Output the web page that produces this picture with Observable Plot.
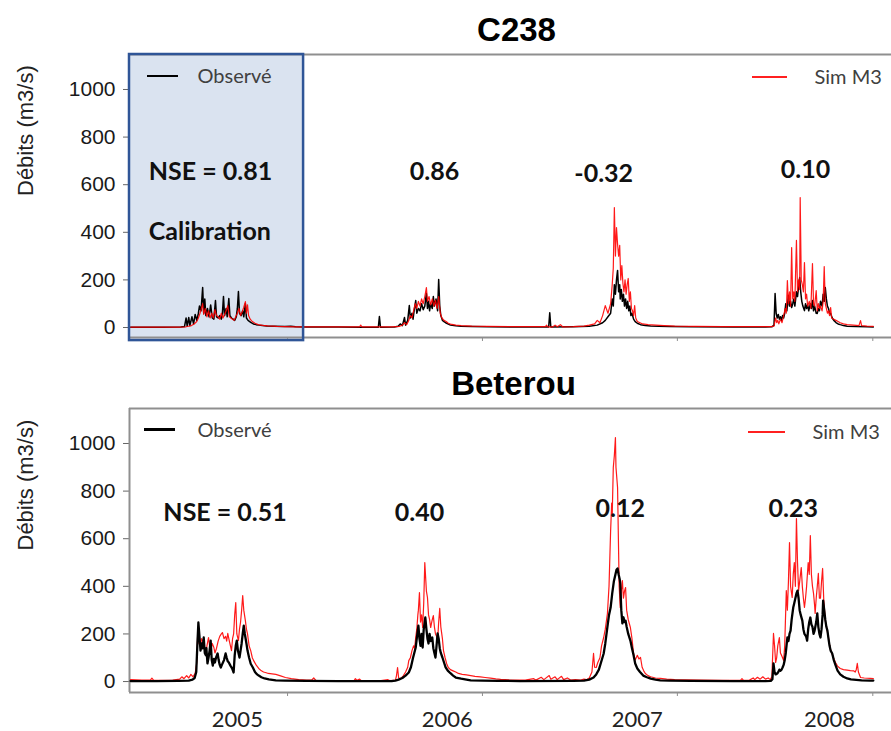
<!DOCTYPE html>
<html>
<head>
<meta charset="utf-8">
<script src="https://cdn.jsdelivr.net/npm/d3@7"></script>
<script src="https://cdn.jsdelivr.net/npm/@observablehq/plot@0.6"></script>
<style>
  body { margin: 0; background: #fff; }
  #wrap { position: relative; width: 891px; height: 731px; overflow: hidden; background: #fff; }
  .panel { position: absolute; left: 0; }
  .sw { position: absolute; }
</style>
</head>
<body>
<div id="wrap"></div>
<script>
// ---------------- DATA ----------------
// time is stored as [days since 2005-01-01, flow in m3/s]
const seriesNames = ["Observé", "Sim M3"];
const panelTitles = ["C238", "Beterou"];
const yTicks = [0, 200, 400, 600, 800, 1000];
const yearTickDays = [365, 730, 1095, 1461];            // 1 Jan 2006..2009
const yearLabels = ["2005", "2006", "2007", "2008"];
const yearLabelDays = [271, 664, 1020, 1380];
const calibrationDays = [69, 395];                       // calibration period

const c238NseText = ["-0.32", "0.86", "0.10"];
const c238NseDays = [957, 640, 1335];
const c238NseVals = [643, 655, 660];
const c238FirstNse = ["NSE = 0.81", "Calibration"];
const c238FirstDays = [105, 105];
const c238FirstVals = [655, 403];

const beterouNseText = ["NSE = 0.51", "0.40", "0.12", "0.23"];
const beterouNseDays = [248, 612, 988, 1312];
const beterouNseVals = [710, 710, 723, 723];

const c238Observed = [
[71,1],[130,1],[165,2],[172,4],[175,40],[177,6],[180,42],[182,8],[186,45],[189,15],[192,55],[195,30],[198,60],[200,90],[203,70],[206,168],[208,60],[210,120],[212,50],[215,80],[218,45],[221,95],[224,40],[227,35],[230,113],[232,45],[235,40],[238,50],[241,35],[243,60],[245,130],[247,50],[250,80],[252,45],[255,122],[257,50],[260,40],[263,35],[266,30],[269,45],[271,80],[273,151],[275,60],[278,50],[281,70],[283,45],[286,100],[288,40],[291,30],[296,22],[301,15],[306,12],[311,10],[318,8],[326,6],[340,5],[360,4],[371,5],[380,3],[400,2],[460,2],[500,1],[535,1],[537,46],[539,1],[565,2],[572,5],[576,15],[580,8],[584,42],[586,10],[590,30],[593,92],[595,40],[598,60],[600,35],[602,70],[605,113],[607,60],[610,80],[613,70],[616,100],[619,75],[622,90],[625,143],[627,80],[629,110],[631,70],[633,100],[636,80],[638,130],[640,90],[643,120],[646,70],[648,202],[650,90],[652,50],[655,30],[658,25],[661,20],[665,15],[670,10],[680,7],[690,5],[710,4],[740,3],[800,2],[854,2],[856,62],[858,2],[900,3],[930,5],[945,10],[955,20],[960,30],[965,45],[970,60],[973,120],[975,90],[977,180],[979,140],[981,200],[983,240],[985,150],[987,180],[988,120],[990,160],[992,110],[994,140],[996,90],[998,120],[1000,80],[1002,110],[1004,70],[1006,90],[1008,50],[1010,60],[1013,35],[1016,25],[1020,18],[1026,12],[1035,8],[1045,6],[1060,5],[1080,4],[1120,3],[1200,2],[1260,2],[1272,3],[1276,10],[1278,143],[1280,60],[1282,40],[1284,55],[1286,35],[1288,45],[1290,30],[1292,50],[1294,40],[1296,60],[1298,100],[1300,70],[1303,134],[1305,90],[1307,110],[1309,84],[1311,100],[1313,120],[1315,90],[1318,150],[1320,130],[1322,170],[1324,210],[1326,150],[1328,110],[1330,90],[1333,71],[1335,100],[1337,80],[1339,95],[1341,70],[1344,100],[1346,80],[1348,113],[1350,70],[1352,90],[1355,60],[1357,59],[1359,80],[1361,70],[1363,110],[1366,90],[1368,140],[1370,110],[1372,168],[1374,120],[1376,90],[1378,80],[1380,60],[1382,59],[1385,40],[1388,30],[1392,21],[1396,15],[1400,12],[1406,8],[1413,5],[1430,4],[1450,3],[1462,2]
];

const c238Simulated = [
[71,2],[160,2],[175,3],[185,8],[190,15],[195,25],[198,40],[201,60],[203,75],[206,100],[208,55],[211,80],[214,45],[217,70],[220,40],[223,60],[226,40],[229,75],[232,50],[235,45],[238,35],[241,60],[244,40],[247,55],[250,70],[253,92],[256,45],[259,40],[262,35],[265,30],[268,45],[271,60],[274,80],[277,50],[280,65],[283,85],[286,109],[288,60],[290,95],[292,50],[295,35],[299,25],[304,18],[310,12],[318,9],[328,7],[345,5],[360,4],[380,3],[420,3],[480,3],[500,3],[502,10],[504,3],[540,3],[560,3],[575,5],[580,10],[584,20],[588,12],[592,30],[595,50],[598,40],[601,70],[604,100],[607,80],[610,110],[613,90],[616,120],[619,100],[622,130],[625,168],[627,110],[630,130],[633,95],[636,120],[639,90],[642,115],[645,80],[648,130],[651,60],[654,40],[658,30],[662,25],[666,18],[670,14],[680,10],[690,8],[710,6],[740,5],[780,4],[820,4],[848,4],[850,10],[852,3],[862,3],[866,10],[870,3],[876,12],[880,3],[900,4],[920,6],[930,10],[940,15],[945,30],[950,20],[955,50],[960,92],[965,60],[970,100],[973,180],[975,250],[977,504],[979,300],[981,420],[983,350],[985,300],[987,345],[989,200],[991,260],[993,185],[995,150],[997,200],[999,140],[1001,180],[1003,206],[1005,110],[1007,150],[1009,80],[1011,70],[1013,50],[1015,92],[1017,40],[1020,25],[1025,20],[1030,15],[1040,12],[1055,10],[1070,8],[1090,6],[1130,5],[1180,4],[1250,4],[1270,4],[1276,6],[1279,40],[1281,20],[1283,30],[1285,15],[1288,35],[1291,20],[1294,50],[1297,80],[1299,60],[1301,197],[1303,100],[1305,150],[1307,90],[1309,336],[1311,120],[1313,150],[1315,110],[1318,366],[1320,150],[1322,200],[1324,160],[1325,546],[1327,200],[1329,180],[1331,150],[1333,273],[1335,120],[1337,140],[1339,90],[1342,110],[1345,80],[1348,269],[1350,100],[1352,90],[1355,155],[1357,70],[1359,100],[1361,80],[1363,90],[1366,70],[1368,110],[1370,256],[1372,100],[1374,80],[1376,60],[1378,70],[1380,50],[1382,84],[1384,40],[1388,35],[1392,30],[1396,25],[1400,20],[1406,15],[1413,12],[1425,10],[1435,8],[1438,29],[1440,8],[1450,6],[1462,5]
];

const beterouObserved = [
[71,2],[120,2],[160,3],[180,4],[187,8],[191,15],[194,40],[196,150],[198,248],[200,190],[202,130],[204,160],[206,140],[208,185],[210,120],[212,110],[213,140],[215,76],[217,100],[219,130],[221,172],[223,90],[225,67],[227,95],[229,80],[231,100],[234,118],[236,90],[238,70],[240,59],[242,70],[244,80],[246,90],[249,118],[251,100],[253,85],[255,80],[258,67],[260,60],[262,50],[264,38],[266,110],[268,150],[270,172],[272,130],[275,101],[277,130],[279,160],[281,200],[283,235],[285,200],[288,160],[290,130],[293,100],[296,75],[300,59],[304,40],[308,30],[311,25],[316,18],[322,13],[330,9],[343,5],[360,4],[400,3],[460,2],[560,2],[567,4],[573,8],[580,15],[586,25],[592,38],[596,60],[600,100],[605,143],[608,200],[610,235],[612,180],[614,150],[616,200],[618,143],[620,220],[623,269],[625,220],[627,180],[629,160],[631,200],[633,170],[636,185],[638,140],[640,120],[642,101],[644,150],[646,202],[648,180],[650,140],[652,120],[655,101],[658,80],[661,60],[665,46],[670,35],[675,25],[680,17],[690,12],[700,8],[708,5],[730,4],[760,3],[800,2],[900,3],[920,4],[930,8],[938,17],[943,30],[948,50],[952,80],[957,118],[960,160],[964,230],[967,280],[970,311],[973,370],[976,420],[979,450],[981,470],[983,475],[985,450],[987,430],[988,412],[990,300],[992,244],[994,270],[996,250],[998,256],[1000,230],[1003,200],[1007,172],[1010,140],[1013,110],[1016,76],[1020,55],[1025,40],[1031,25],[1038,18],[1045,12],[1054,8],[1063,5],[1080,4],[1120,3],[1200,2],[1260,2],[1270,3],[1273,10],[1275,76],[1277,40],[1279,30],[1282,34],[1284,40],[1286,50],[1288,45],[1290,50],[1292,59],[1294,70],[1296,90],[1298,120],[1301,185],[1303,170],[1305,200],[1307,214],[1309,260],[1312,311],[1314,330],[1316,350],[1318,370],[1320,382],[1322,350],[1324,300],[1326,280],[1329,256],[1331,220],[1333,200],[1336,190],[1338,172],[1340,220],[1342,250],[1344,269],[1346,240],[1348,230],[1350,200],[1352,214],[1355,250],[1357,286],[1359,230],[1361,200],[1363,185],[1365,220],[1367,280],[1368,340],[1370,300],[1372,260],[1374,230],[1376,214],[1378,180],[1380,150],[1382,130],[1385,118],[1388,90],[1391,70],[1395,46],[1400,30],[1406,20],[1413,13],[1420,9],[1430,7],[1440,5],[1456,4],[1462,4]
];

const beterouSimulated = [
[71,8],[92,6],[108,6],[111,14],[114,6],[130,5],[150,6],[163,10],[167,20],[171,12],[176,25],[180,15],[184,30],[188,20],[192,35],[195,80],[197,227],[199,160],[202,150],[204,180],[206,172],[209,140],[212,120],[214,150],[217,185],[219,150],[221,130],[224,160],[227,143],[229,120],[232,140],[235,170],[238,190],[241,200],[243,206],[246,180],[249,190],[251,170],[253,202],[256,170],[258,150],[260,130],[262,180],[264,200],[266,280],[268,332],[270,200],[273,172],[275,220],[277,250],[279,300],[281,361],[283,300],[286,256],[288,220],[290,200],[293,150],[296,130],[299,100],[301,90],[306,70],[311,55],[316,45],[320,40],[325,37],[329,34],[336,32],[343,30],[352,24],[361,17],[372,12],[386,8],[400,6],[410,6],[414,15],[418,5],[440,4],[470,4],[490,5],[492,12],[495,5],[500,10],[503,4],[540,4],[553,8],[556,4],[565,5],[567,5],[569,25],[571,59],[573,15],[577,12],[582,25],[586,40],[590,60],[592,88],[595,100],[598,130],[601,150],[603,140],[605,185],[607,220],[609,280],[610,300],[612,374],[614,250],[616,280],[618,227],[620,330],[622,500],[624,420],[625,380],[627,353],[629,280],[631,260],[633,227],[635,250],[636,260],[638,277],[640,230],[642,200],[644,190],[646,172],[648,250],[650,307],[652,230],[655,180],[657,130],[660,100],[663,75],[666,59],[670,50],[675,45],[680,40],[685,34],[692,30],[700,28],[708,25],[716,22],[726,20],[735,17],[745,14],[755,11],[764,9],[780,7],[800,6],[810,6],[826,12],[830,6],[840,18],[845,8],[855,25],[858,10],[866,20],[870,8],[878,22],[882,8],[889,15],[895,6],[904,8],[914,6],[920,10],[925,8],[930,15],[935,40],[938,118],[940,60],[943,59],[946,80],[950,100],[953,150],[957,185],[960,220],[964,286],[967,400],[970,634],[972,750],[973,700],[975,899],[977,950],[979,1025],[980,900],[983,815],[985,538],[986,400],[988,311],[990,380],[992,424],[994,350],[996,380],[998,395],[1000,300],[1003,260],[1007,227],[1010,180],[1013,118],[1016,90],[1020,110],[1023,95],[1026,101],[1029,60],[1032,45],[1035,34],[1040,25],[1045,20],[1054,15],[1063,13],[1075,10],[1090,8],[1110,7],[1140,6],[1180,5],[1200,5],[1213,5],[1216,12],[1219,5],[1230,6],[1237,15],[1240,8],[1245,18],[1250,10],[1255,20],[1260,10],[1265,15],[1269,8],[1272,20],[1275,202],[1277,150],[1279,80],[1281,101],[1283,150],[1286,185],[1288,120],[1290,110],[1292,100],[1294,88],[1296,150],[1299,382],[1301,300],[1303,420],[1305,584],[1307,400],[1310,353],[1312,450],[1314,500],[1316,400],[1318,685],[1320,500],[1322,382],[1324,420],[1327,479],[1329,400],[1331,350],[1333,311],[1335,350],[1337,400],[1340,500],[1342,450],[1344,613],[1346,450],[1348,400],[1350,370],[1352,320],[1353,286],[1355,350],[1357,400],[1359,454],[1361,350],[1363,350],[1365,420],[1367,475],[1369,350],[1372,256],[1375,220],[1378,185],[1381,140],[1384,120],[1387,101],[1391,80],[1395,65],[1400,55],[1406,50],[1413,48],[1419,46],[1425,45],[1428,40],[1430,50],[1432,76],[1434,40],[1438,17],[1445,15],[1456,13],[1462,12]
];

// ---------------- DRAWING ----------------
const ORIGIN = Date.UTC(2005, 0, 1);
const toDate = d => new Date(ORIGIN + d * 864e5);
const xDomain = [toDate(69), toDate(1496)];
const W = 891, ML = 129;
const FRAME = "#8f8f8f";
const AXIS_FONT = "'Liberation Sans', Arial, sans-serif";
const NOTE_FONT = "Lato, 'Open Sans', sans-serif";

function makePanel(cfg) {
  const pt = (d) => ({date: toDate(d[0]), q: d[1]});
  const obs = cfg.obs.map(pt), sim = cfg.sim.map(pt);
  const marks = [];
  if (cfg.calib) {
    marks.push(Plot.rect([0], {x1: toDate(cfg.calib[0]), x2: toDate(cfg.calib[1]),
      y1: cfg.yDomain[0] - 13, y2: cfg.yDomain[1], fill: "#dae3f0"}));
  }
  marks.push(
    Plot.ruleY([cfg.yDomain[0], cfg.yDomain[1]], {stroke: FRAME, strokeWidth: 2}),
    Plot.axisY({ticks: yTicks, tickSize: 6, tickPadding: 8, fontSize: 21, fontFamily: AXIS_FONT, label: null,
                tickFormat: d => String(d), stroke: "#666", fill: "#1a1a1a"}),
    Plot.axisX({ticks: yearTickDays.map(toDate), tickSize: 4, tickFormat: () => "", label: null, stroke: FRAME}),
    Plot.text(["Débits (m3/s)"], {frameAnchor: "left", dx: -104, rotate: -90, fontSize: 22, fontFamily: AXIS_FONT, fill: "#222"}),
    Plot.text([cfg.title], {frameAnchor: "top", dx: cfg.titleDx, dy: cfg.titleDy, fontSize: 33, fontFamily: AXIS_FONT, fontWeight: "bold", fill: "#000", lineAnchor: "middle"})
  );
  if (!cfg.calib) marks.push(Plot.ruleX([xDomain[0]], {stroke: FRAME, strokeWidth: 2}));
  if (cfg.redFirst) {
    marks.push(Plot.line(sim, {x: "date", y: "q", stroke: "#ff0000", strokeWidth: 1.2, strokeOpacity: 0.9}));
    marks.push(Plot.line(obs, {x: "date", y: "q", stroke: "#000", strokeWidth: cfg.blackWidth}));
  } else {
    marks.push(Plot.line(obs, {x: "date", y: "q", stroke: "#000", strokeWidth: cfg.blackWidth}));
    marks.push(Plot.line(sim, {x: "date", y: "q", stroke: "#ff0000", strokeWidth: 1.2, strokeOpacity: 0.9}));
  }
  if (cfg.calib) {
    marks.push(Plot.rect([0], {x1: toDate(cfg.calib[0]), x2: toDate(cfg.calib[1]),
      y1: cfg.yDomain[0] - 13, y2: cfg.yDomain[1], fill: "none", stroke: "#2f5597", strokeWidth: 2.5}));
  }
  for (const n of cfg.notes) {
    marks.push(Plot.text(n.text.map((t, i) => ({t, d: toDate(n.days[i]), v: n.vals[i]})),
      {x: "d", y: "v", text: "t", textAnchor: n.anchor || "middle", lineAnchor: "middle",
       fontFamily: NOTE_FONT, fontWeight: "bold", fontSize: n.size, fill: "#111"}));
  }
  marks.push(
    Plot.text([seriesNames[0]], {frameAnchor: "top-left", dx: 68, dy: cfg.legDy[0], textAnchor: "start", lineAnchor: "middle", fontFamily: NOTE_FONT, fontSize: 20, fill: "#404040"}),
    Plot.text([seriesNames[1]], {frameAnchor: "top-left", dx: cfg.legDx2, dy: cfg.legDy[1], textAnchor: "start", lineAnchor: "middle", fontFamily: NOTE_FONT, fontSize: 20, fill: "#404040"})
  );
  if (cfg.years) {
    marks.push(Plot.text(yearLabels.map((t, i) => ({t, d: toDate(yearLabelDays[i])})),
      {x: "d", text: "t", frameAnchor: "bottom", dy: 27, lineAnchor: "middle", fontFamily: NOTE_FONT, fontSize: 22, fill: "#222"}));
  }
  return Plot.plot({
    width: W, height: cfg.height,
    marginLeft: ML, marginRight: 0, marginTop: cfg.mt, marginBottom: cfg.mb,
    style: {fontFamily: AXIS_FONT, fontSize: "20px", background: "#fff", overflow: "visible"},
    x: {type: "utc", domain: xDomain},
    y: {domain: cfg.yDomain},
    marks
  });
}

const wrap = document.getElementById("wrap");

const topPanel = makePanel({
  height: 360, mt: 54, mb: 23, yDomain: [-42, 1147],
  obs: c238Observed, sim: c238Simulated, title: panelTitles[0], titleDx: 6, titleDy: -24,
  calib: calibrationDays, blackWidth: 1.5, redFirst: false,
  notes: [
    {text: c238FirstNse, days: c238FirstDays, vals: c238FirstVals, anchor: "start", size: 25},
    {text: c238NseText, days: c238NseDays, vals: c238NseVals, size: 25}
  ],
  legDy: [22, 23], legDx2: 685, years: false
});
topPanel.classList.add("panel"); topPanel.style.top = "0px";
wrap.appendChild(topPanel);

const botPanel = makePanel({
  height: 371, mt: 48, mb: 39, yDomain: [-46, 1147],
  obs: beterouObserved, sim: beterouSimulated, title: panelTitles[1], titleDx: 3, titleDy: -24,
  calib: null, blackWidth: 2.3, redFirst: true,
  notes: [{text: beterouNseText, days: beterouNseDays, vals: beterouNseVals, size: 25}],
  legDy: [22, 24], legDx2: 683, years: true
});
botPanel.classList.add("panel"); botPanel.style.top = "360px";
wrap.appendChild(botPanel);

// legend swatches
const swatches = [
  {left: 147, top: 75, w: 31, h: 2, c: "#000"},
  {left: 752, top: 76, w: 35, h: 2, c: "#ff2020"},
  {left: 144, top: 428, w: 31, h: 2.5, c: "#000"},
  {left: 748, top: 431, w: 37, h: 2, c: "#ff2020"}
];
for (const s of swatches) {
  const el = document.createElement("div");
  el.className = "sw";
  Object.assign(el.style, {left: s.left + "px", top: s.top + "px", width: s.w + "px", height: s.h + "px", background: s.c});
  wrap.appendChild(el);
}
</script>
</body>
</html>
